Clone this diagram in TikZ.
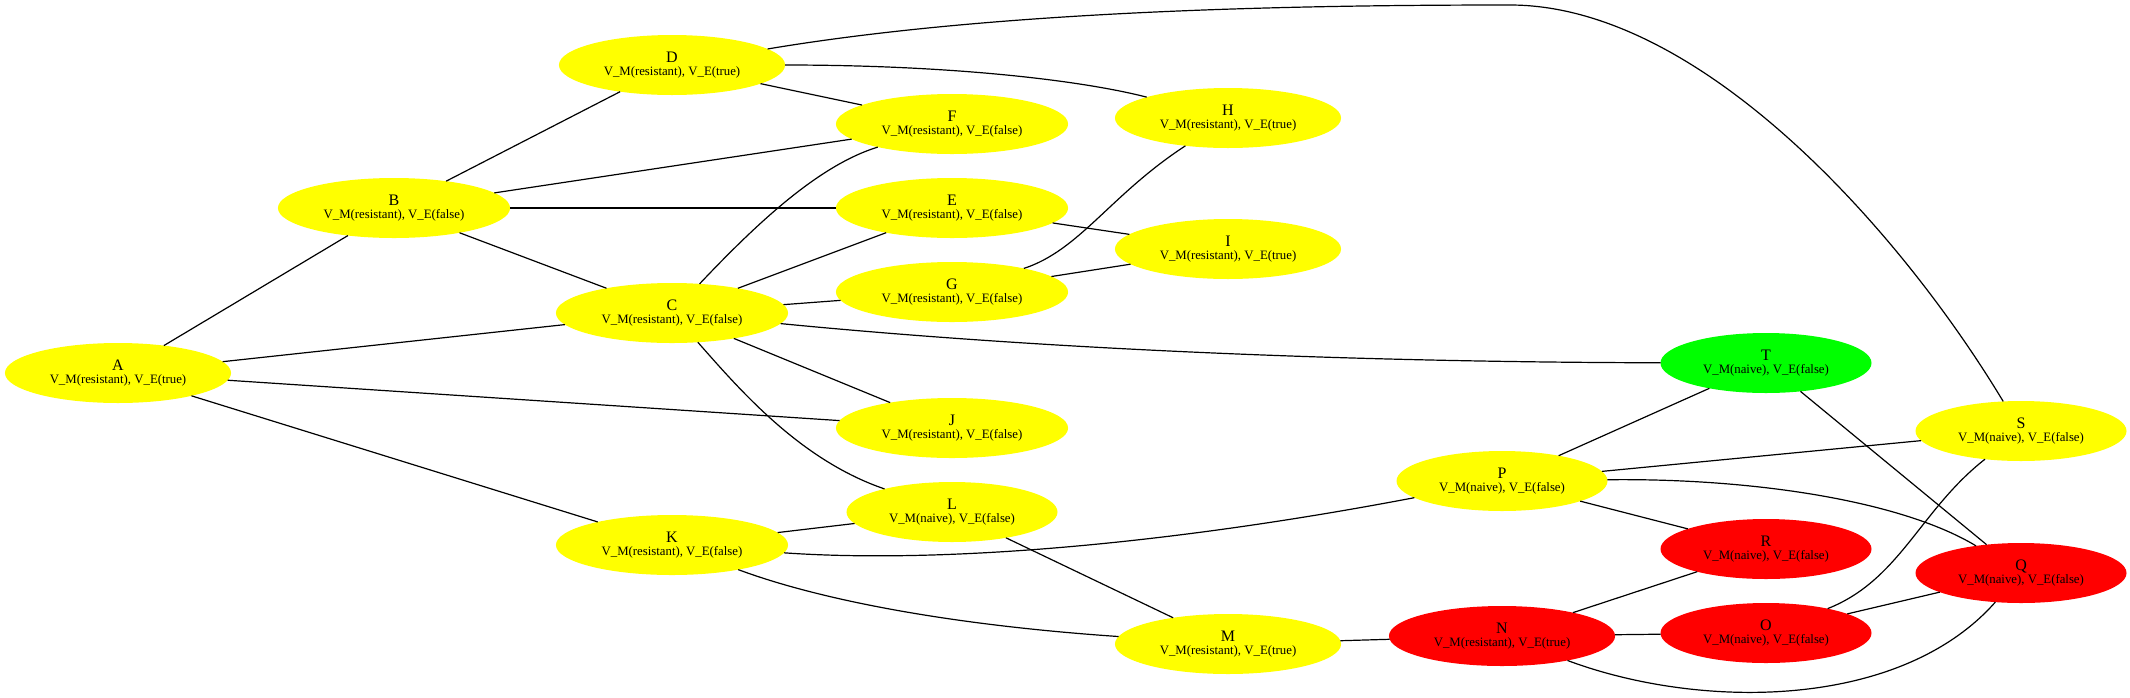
\documentclass[tikz,border=0pt]{standalone}
\usepackage{fontspec}
\setmainfont{Liberation Serif}
\usepackage{tikz}
\usepackage{xcolor}
\usetikzlibrary{shapes.geometric}
\definecolor{stateYellow}{RGB}{255,255,0}
\definecolor{stateRed}{RGB}{255,0,0}
\definecolor{stateGreen}{RGB}{0,255,0}
\newcommand{\nameFont}{\fontsize{16pt}{13pt}\selectfont}
\tikzstyle{stateNode} = [ellipse, inner xsep=11.7pt, inner ysep=2pt,
   minimum height=60pt, outer sep=0pt, align=center,
   font=\fontsize{12.8pt}{13pt}\selectfont]
\tikzstyle{yellowNode} = [stateNode, fill=stateYellow]
\tikzstyle{redNode} = [stateNode, fill=stateRed]
\tikzstyle{greenNode} = [stateNode, fill=stateGreen]
\tikzstyle{stateLink} = [line width=1.2pt, black]

\begin{document}
\begin{tikzpicture}[x=1pt, y=1pt, node distance=84pt]
  \path[use as bounding box, fill=white] (0,0) rectangle (2130,-697);

  % states
  \node[yellowNode] (A) at (118,-373) {{\nameFont A}\\V\_M(resistant), V\_E(true)};
  \node[yellowNode] (B) at (394,-208) {{\nameFont B}\\V\_M(resistant), V\_E(false)};
  \node[yellowNode] (C) at (672,-313) {{\nameFont C}\\V\_M(resistant), V\_E(false)};
  \node[yellowNode] (D) at (672,-65) {{\nameFont D}\\V\_M(resistant), V\_E(true)};
  \node[yellowNode] (F) at (952,-124) {{\nameFont F}\\V\_M(resistant), V\_E(false)};
  \node[yellowNode, below of=F] (E) {{\nameFont E}\\V\_M(resistant), V\_E(false)};
  \node[yellowNode, below of=E] (G) {{\nameFont G}\\V\_M(resistant), V\_E(false)};
  \node[yellowNode] (H) at (1228,-118) {{\nameFont H}\\V\_M(resistant), V\_E(true)};
  \node[yellowNode] (I) at (1228,-249) {{\nameFont I}\\V\_M(resistant), V\_E(true)};
  \node[yellowNode] (J) at (952,-428) {{\nameFont J}\\V\_M(resistant), V\_E(false)};
  \node[yellowNode] (K) at (672,-545) {{\nameFont K}\\V\_M(resistant), V\_E(false)};
  \node[yellowNode] (L) at (952,-512) {{\nameFont L}\\V\_M(naive), V\_E(false)};
  \node[yellowNode] (M) at (1228,-644) {{\nameFont M}\\V\_M(resistant), V\_E(true)};
  \node[redNode] (N) at (1502,-636) {{\nameFont N}\\V\_M(resistant), V\_E(true)};
  \node[yellowNode] (P) at (1502,-481) {{\nameFont P}\\V\_M(naive), V\_E(false)};
  \node[greenNode] (T) at (1766,-363) {{\nameFont T}\\V\_M(naive), V\_E(false)};
  \node[redNode] (R) at (1766,-549) {{\nameFont R}\\V\_M(naive), V\_E(false)};
  \node[redNode, below of=R] (O) {{\nameFont O}\\V\_M(naive), V\_E(false)};
  \node[yellowNode] (S) at (2021,-431) {{\nameFont S}\\V\_M(naive), V\_E(false)};
  \node[redNode] (Q) at (2021,-573) {{\nameFont Q}\\V\_M(naive), V\_E(false)};

  % straight links
  \draw[stateLink] (A) -- (B);
  \draw[stateLink] (A) -- (C);
  \draw[stateLink] (A) -- (J);
  \draw[stateLink] (A) -- (K);
  \draw[stateLink] (B) -- (D);
  \draw[stateLink] (B) -- (F);
  \draw[stateLink] (B) -- (E);
  \draw[stateLink] (B) -- (C);
  \draw[stateLink] (D) -- (F);
  \draw[stateLink] (C) -- (E);
  \draw[stateLink] (C) -- (G);
  \draw[stateLink] (C) -- (J);
  \draw[stateLink] (E) -- (I);
  \draw[stateLink] (G) -- (I);
  \draw[stateLink] (K) -- (L);
  \draw[stateLink] (L) -- (M);
  \draw[stateLink] (M) -- (N);
  \draw[stateLink] (N) -- (O);
  \draw[stateLink] (N) -- (R);
  \draw[stateLink] (O) -- (Q);
  \draw[stateLink] (P) -- (T);
  \draw[stateLink] (P) -- (S);
  \draw[stateLink] (P) -- (R);
  \draw[stateLink] (T) -- (Q);

  % curved links
  \coordinate (top) at (1510,-5);
  \draw[stateLink] (D) .. controls (1000,-10) and (1300,-5) .. (top)
    .. controls (1700,-5) and (1900,-230) .. (S);
  \draw[stateLink] (D) .. controls (950,-65) and (1080,-80) .. (H);
  \draw[stateLink] (C) .. controls (760,-220) and (820,-165) .. (F);
  \draw[stateLink] (C) .. controls (740,-390) and (800,-460) .. (L);
  \draw[stateLink] (C) .. controls (1000,-345) and (1300,-362) .. (T);
  \draw[stateLink] (G) .. controls (1080,-250) and (1110,-195) .. (H);
  \draw[stateLink] (K) .. controls (930,-563) and (1150,-548) .. (P);
  \draw[stateLink] (K) .. controls (820,-600) and (950,-625) .. (M);
  \draw[stateLink] (N) .. controls (1700,-710) and (1900,-710) .. (Q);
  \draw[stateLink] (O) .. controls (1900,-580) and (1920,-510) .. (S);
  \draw[stateLink] (P) .. controls (1750,-478) and (1900,-500) .. (Q);
\end{tikzpicture}
\end{document}
